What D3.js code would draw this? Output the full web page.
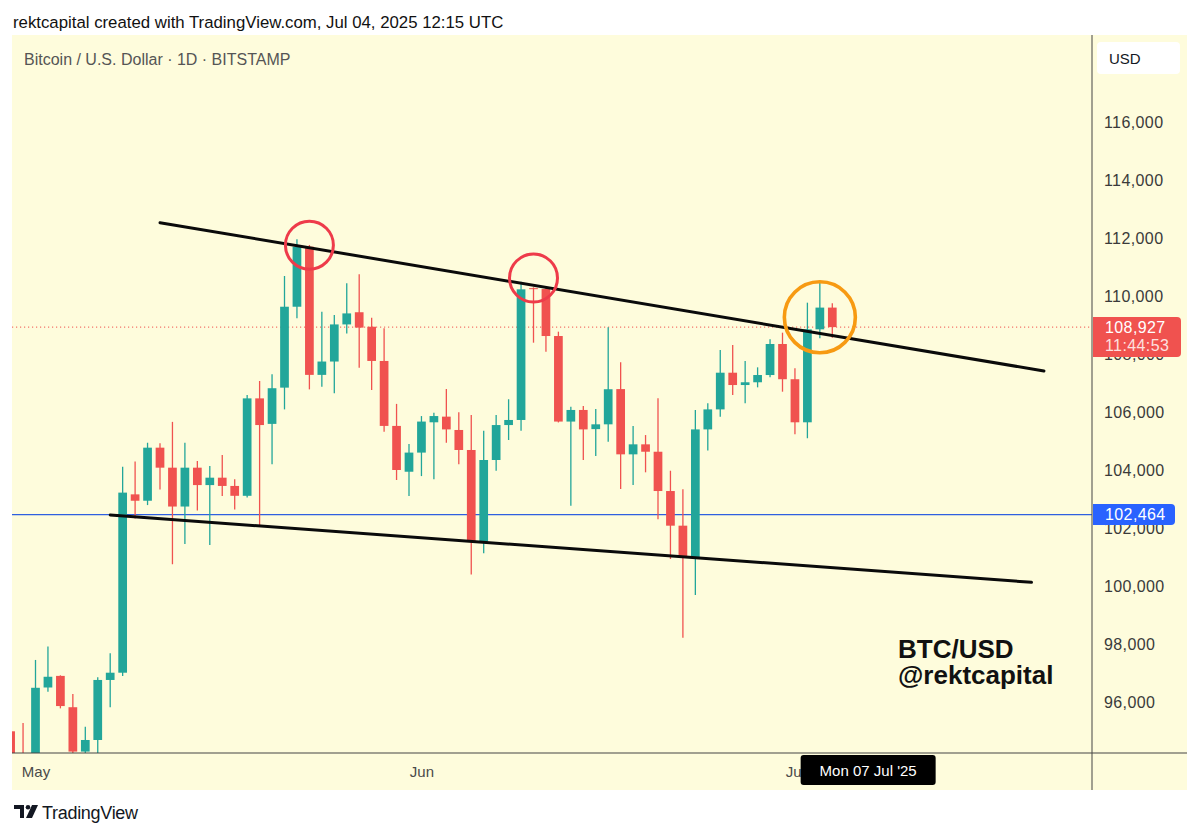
<!DOCTYPE html>
<html>
<head>
<meta charset="utf-8">
<script src="https://cdn.jsdelivr.net/npm/d3@7"></script>
<style>
  body { margin: 0; background: #fff; }
  text { font-family: "Liberation Sans", Arial, sans-serif; }
</style>
</head>
<body>
<div id="chart"></div>
<script>
// daily candles, BTC/USD Bitstamp
const DATES = [
  "2025-04-29", "2025-04-30",
  "2025-05-01", "2025-05-02", "2025-05-03", "2025-05-04", "2025-05-05", "2025-05-06", "2025-05-07",
  "2025-05-08", "2025-05-09", "2025-05-10", "2025-05-11", "2025-05-12", "2025-05-13", "2025-05-14",
  "2025-05-15", "2025-05-16", "2025-05-17", "2025-05-18", "2025-05-19", "2025-05-20", "2025-05-21",
  "2025-05-22", "2025-05-23", "2025-05-24", "2025-05-25", "2025-05-26", "2025-05-27", "2025-05-28",
  "2025-05-29", "2025-05-30", "2025-05-31",
  "2025-06-01", "2025-06-02", "2025-06-03", "2025-06-04", "2025-06-05", "2025-06-06", "2025-06-07",
  "2025-06-08", "2025-06-09", "2025-06-10", "2025-06-11", "2025-06-12", "2025-06-13", "2025-06-14",
  "2025-06-15", "2025-06-16", "2025-06-17", "2025-06-18", "2025-06-19", "2025-06-20", "2025-06-21",
  "2025-06-22", "2025-06-23", "2025-06-24", "2025-06-25", "2025-06-26", "2025-06-27", "2025-06-28",
  "2025-06-29", "2025-06-30",
  "2025-07-01", "2025-07-02", "2025-07-03", "2025-07-04"
];
const OPEN = [
  94990, 94230,
  94180, 96500, 96900, 95820, 94290, 94690, 96760,
  97010, 103160, 102940, 104770, 104080, 102740, 104080,
  103480, 103735, 103450, 103110, 106470, 105590, 106840,
  109630, 111700, 107280, 107740, 109020, 109440, 108940,
  107760, 105520, 103940,
  104600, 105645, 105840, 105380, 104690, 101530, 104345,
  105550, 105725, 110270, 110240, 108620, 105670, 106070,
  105410, 105575, 106790, 104540, 104885, 104630, 103275,
  102080, 100975, 105400, 106090, 107355, 106930, 107025,
  107275, 108345,
  107130, 105645, 108850, 109600
];
const HIGH = [
  95010, 95280,
  97450, 97910, 96920, 96280, 95150, 96850, 97680,
  104110, 104290, 104940, 104920, 105660, 104940, 104310,
  104140, 104520, 103680, 106590, 107070, 107300, 110690,
  111960, 111760, 109460, 109345, 110440, 110750, 109250,
  108890, 106280, 104900,
  105860, 105975, 106790, 105990, 105900, 105355, 105900,
  106440, 110495, 110300, 110320, 108770, 106185, 106210,
  106105, 108920, 107715, 105515, 105205, 106470, 103975,
  103335, 106070, 106300, 108140, 108310, 107760, 107540,
  108505, 108735,
  107505, 109770, 110495, 109750
];
const LOW = [
  93900, 92900,
  94100, 96350, 95780, 94150, 93600, 93400, 95820,
  96900, 102330, 102790, 103330, 100750, 101450, 102600,
  101410, 103100, 102640, 103050, 102100, 104200, 106090,
  109230, 106780, 106870, 106645, 108710, 107530, 106760,
  105320, 103655, 103100,
  103790, 103680, 104940, 104195, 100400, 101130, 103975,
  105035, 105355, 108390, 108080, 105640, 102770, 104345,
  104480, 104975, 103345, 103480, 103920, 102300, 100930,
  98215, 99690, 104670, 105840, 106585, 106300, 106850,
  107195, 106700,
  105230, 105095, 108540, 108560
];
const CLOSE = [
  94230, 94180,
  96490, 96870, 95860, 94290, 94690, 96760, 97010,
  103220, 102940, 104770, 104080, 102740, 104080, 103480,
  103735, 103450, 103110, 106470, 105550, 106820, 109630,
  111700, 107280, 107740, 109020, 109400, 108910, 107760,
  105520, 104000, 104600,
  105670, 105860, 105400, 104690, 101530, 104345, 105550,
  105725, 110230, 110240, 108620, 105670, 106070, 105400,
  105575, 106785, 104540, 104885, 104630, 103275, 102080,
  100975, 105400, 106090, 107355, 106930, 107025, 107275,
  108345, 107130,
  105645, 108850, 109600, 108927
];

const PRICE_TICKS = [96000, 98000, 100000, 102000, 104000, 106000, 108000, 110000, 112000, 114000, 116000];
const MONTH_TICKS = ["2025-05-01", "2025-06-01", "2025-07-01"];
const MONTH_LABELS = ["May", "Jun", "Jul"];

const LAST_PRICE = 108927;
const LAST_COUNTDOWN = "11:44:53";
const LEVEL_PRICE = 102464;
const CURSOR_DATE = "2025-07-07";
const CURSOR_LABEL = "Mon 07 Jul '25";

// trendlines: [start, end] as date / price
const UPPER_DATES = ["2025-05-11", "2025-07-21"];
const UPPER_PRICES = [112528, 107414];
const LOWER_DATES = ["2025-05-07", "2025-07-20"];
const LOWER_PRICES = [102448, 100128];

// highlighted touches
const RED_CIRCLE_DATES = ["2025-05-23", "2025-06-10"];
const RED_CIRCLE_PRICES = [111752, 110620];
const ORANGE_CIRCLE_DATES = ["2025-07-03"];
const ORANGE_CIRCLE_PRICES = [109266];

const TITLE = "rektcapital created with TradingView.com, Jul 04, 2025 12:15 UTC";
const SYMBOL = "Bitcoin / U.S. Dollar · 1D · BITSTAMP";

const WIDTH = 1200;
const HEIGHT = 836;
const PANE = { left: 12, top: 35, right: 1092, bottom: 753 };
const AXIS_RIGHT = 1187;
const AXIS_BOTTOM = 790;

const UP = "#22a69a";
const DOWN = "#f0524f";
const BG = "#fefcdc";

const parse = d3.utcParse("%Y-%m-%d");

const candles = DATES.map((d, i) => ({
  date: parse(d), open: OPEN[i], high: HIGH[i], low: LOW[i], close: CLOSE[i]
}));

const x = d3.scaleUtc()
  .domain([parse("2025-05-01"), parse("2025-07-20")])
  .range([35.5, 35.5 + 80 * 12.45]);

const y = d3.scaleLinear()
  .domain([96000, 116000])
  .range([702, 122]);

const svg = d3.select("#chart").append("svg")
  .attr("width", WIDTH)
  .attr("height", HEIGHT);

// pale yellow chart background
svg.append("rect")
  .attr("x", PANE.left).attr("y", PANE.top)
  .attr("width", AXIS_RIGHT - PANE.left).attr("height", AXIS_BOTTOM - PANE.top)
  .attr("fill", BG);

svg.append("defs").append("clipPath").attr("id", "pane")
  .append("rect")
  .attr("x", PANE.left).attr("y", PANE.top)
  .attr("width", PANE.right - PANE.left).attr("height", PANE.bottom - PANE.top);

const pane = svg.append("g").attr("clip-path", "url(#pane)");

// horizontal level and last price line
pane.append("line")
  .attr("x1", PANE.left).attr("x2", PANE.right)
  .attr("y1", y(LEVEL_PRICE)).attr("y2", y(LEVEL_PRICE))
  .attr("stroke", "#2f5fe0").attr("stroke-width", 1.2);

pane.append("line")
  .attr("x1", PANE.left).attr("x2", PANE.right)
  .attr("y1", y(LAST_PRICE)).attr("y2", y(LAST_PRICE))
  .attr("stroke", DOWN).attr("stroke-width", 1)
  .attr("stroke-dasharray", "1.2,2.8");

// candles
const dayW = x(parse("2025-05-02")) - x(parse("2025-05-01"));
const bodyW = dayW * 0.7;

const candle = pane.selectAll(".candle")
  .data(candles)
  .enter()
  .append("g")
  .attr("class", "candle")
  .attr("fill", d => d.close >= d.open ? UP : DOWN)
  .attr("stroke", d => d.close >= d.open ? UP : DOWN);

candle.append("line")
  .attr("x1", d => x(d.date)).attr("x2", d => x(d.date))
  .attr("y1", d => y(d.high)).attr("y2", d => y(d.low))
  .attr("stroke-width", 1.3);

candle.append("rect")
  .attr("x", d => x(d.date) - bodyW / 2)
  .attr("width", bodyW)
  .attr("y", d => y(Math.max(d.open, d.close)))
  .attr("height", d => Math.max(1, Math.abs(y(d.open) - y(d.close))))
  .attr("stroke", "none");

// trendlines
[[UPPER_DATES, UPPER_PRICES], [LOWER_DATES, LOWER_PRICES]].forEach(([ds, ps]) => {
  pane.append("line")
    .attr("x1", x(parse(ds[0]))).attr("y1", y(ps[0]))
    .attr("x2", x(parse(ds[1]))).attr("y2", y(ps[1]))
    .attr("stroke", "#0a0a0a").attr("stroke-width", 3)
    .attr("stroke-linecap", "round");
});

// circles
pane.selectAll(".red-circle")
  .data(RED_CIRCLE_DATES)
  .enter()
  .append("circle")
  .attr("cx", d => x(parse(d)))
  .attr("cy", (d, i) => y(RED_CIRCLE_PRICES[i]))
  .attr("r", 24)
  .attr("fill", "none")
  .attr("stroke", "#ee3b4a")
  .attr("stroke-width", 3);

pane.selectAll(".orange-circle")
  .data(ORANGE_CIRCLE_DATES)
  .enter()
  .append("circle")
  .attr("cx", d => x(parse(d)))
  .attr("cy", (d, i) => y(ORANGE_CIRCLE_PRICES[i]))
  .attr("r", 35.5)
  .attr("fill", "none")
  .attr("stroke", "#f79a12")
  .attr("stroke-width", 3.6);

// watermark text, two lines
const mark = pane.append("text")
  .attr("x", 898).attr("y", 658)
  .attr("font-size", 26).attr("font-weight", "bold").attr("fill", "#111");
mark.append("tspan").attr("x", 898).text("BTC/USD");
mark.append("tspan").attr("x", 898).attr("dy", 26).text("@rektcapital");

// axis frame lines
svg.append("line")
  .attr("x1", PANE.right).attr("x2", PANE.right)
  .attr("y1", PANE.top).attr("y2", AXIS_BOTTOM)
  .attr("stroke", "#444").attr("stroke-width", 1);
svg.append("line")
  .attr("x1", PANE.left).attr("x2", AXIS_RIGHT)
  .attr("y1", PANE.bottom).attr("y2", PANE.bottom)
  .attr("stroke", "#444").attr("stroke-width", 1);

// price axis
const yAxis = svg.append("g")
  .attr("transform", `translate(${PANE.right},0)`)
  .call(d3.axisRight(y).tickValues(PRICE_TICKS).tickSize(0).tickPadding(12).tickFormat(d3.format(",")));
yAxis.select(".domain").remove();
yAxis.selectAll("text")
  .attr("font-size", 16).attr("fill", "#3a3a3a")
  .style("font-family", "'Liberation Sans', Arial, sans-serif")
  .attr("letter-spacing", 0.4);

// time axis
const xAxis = svg.append("g")
  .attr("transform", `translate(0,${PANE.bottom})`)
  .call(d3.axisBottom(x)
    .tickValues(MONTH_TICKS.map(parse))
    .tickSize(0).tickPadding(13)
    .tickFormat((d, i) => MONTH_LABELS[i]));
xAxis.select(".domain").remove();
xAxis.selectAll("text")
  .attr("font-size", 15).attr("fill", "#4a4a4a")
  .style("font-family", "'Liberation Sans', Arial, sans-serif");

// price labels on the axis
const lastY = y(LAST_PRICE);
svg.append("path")
  .attr("d", `M${PANE.right + 1},${lastY - 10} H1177 Q1181,${lastY - 10} 1181,${lastY - 6} V${lastY + 26} Q1181,${lastY + 30} 1177,${lastY + 30} H${PANE.right + 1} Z`)
  .attr("fill", DOWN);
svg.append("text")
  .attr("x", 1105).attr("y", lastY + 5.5)
  .attr("font-size", 16).attr("fill", "#fff").attr("letter-spacing", 0.4)
  .text(d3.format(",")(LAST_PRICE));
svg.append("text")
  .attr("x", 1105).attr("y", lastY + 24)
  .attr("font-size", 16).attr("fill", "#fde0df").attr("letter-spacing", 0.4)
  .text(LAST_COUNTDOWN);

const levelY = y(LEVEL_PRICE);
svg.append("path")
  .attr("d", `M${PANE.right + 1},${levelY - 10.5} H1171 Q1175,${levelY - 10.5} 1175,${levelY - 6.5} V${levelY + 6.5} Q1175,${levelY + 10.5} 1171,${levelY + 10.5} H${PANE.right + 1} Z`)
  .attr("fill", "#2962ff");
svg.append("text")
  .attr("x", 1105).attr("y", levelY + 5.5)
  .attr("font-size", 16).attr("fill", "#fff").attr("letter-spacing", 0.4)
  .text(d3.format(",")(LEVEL_PRICE));

// currency button
svg.append("rect")
  .attr("x", 1097).attr("y", 42).attr("width", 83).attr("height", 32).attr("rx", 4)
  .attr("fill", "#fff");
svg.append("text")
  .attr("x", 1109).attr("y", 63.5)
  .attr("font-size", 15).attr("fill", "#131722")
  .text("USD");

// crosshair date label
const cx = x(parse(CURSOR_DATE));
svg.append("rect")
  .attr("x", cx - 69).attr("y", 755).attr("width", 135).attr("height", 30).attr("rx", 3)
  .attr("fill", "#000");
svg.append("text")
  .attr("x", cx - 1.5).attr("y", 775.5)
  .attr("text-anchor", "middle")
  .attr("font-size", 15).attr("fill", "#fff")
  .text(CURSOR_LABEL);

// header
svg.append("text")
  .attr("x", 13).attr("y", 28)
  .attr("font-size", 16.8).attr("fill", "#111")
  .text(TITLE);
svg.append("text")
  .attr("x", 24).attr("y", 65)
  .attr("font-size", 16).attr("fill", "#555")
  .text(SYMBOL);

// footer logo
const logo = svg.append("g").attr("transform", "translate(14,805)").attr("fill", "#131722");
logo.append("path").attr("d", "M0,0 H10 V13 H6 V4 H0 Z");
logo.append("circle").attr("cx", 14).attr("cy", 2.3).attr("r", 2.3);
logo.append("path").attr("d", "M18,0 H24 L18,13 H12 Z");
svg.append("text")
  .attr("x", 42).attr("y", 819)
  .attr("font-size", 18).attr("fill", "#131722")
  .attr("letter-spacing", -0.3)
  .text("TradingView");
</script>
</body>
</html>
